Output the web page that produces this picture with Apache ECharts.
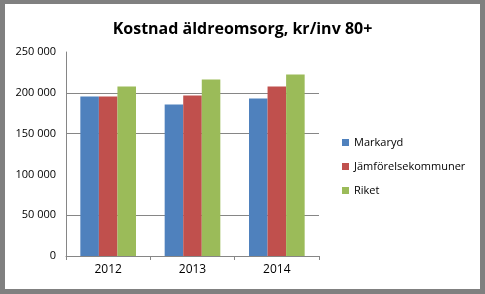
<!DOCTYPE html>
<html>
<head>
<meta charset="utf-8">
<script src="https://cdn.jsdelivr.net/npm/echarts@6/dist/echarts.min.js"></script>
<style>
  body { margin: 0; background: #808080; }
  .main { position: absolute; left: 5px; top: 4px; width: 475px; height: 285px; background: #fff; }
</style>
</head>
<body>
<div class="main" id="chart"></div>
<script>
// data
let years = ['2012', '2013', '2014']
let markaryd = [195500, 185700, 193000]
let jamforelse = [195500, 196700, 207700]
let riket = [207700, 216300, 222400]
let seriesNames = ['Markaryd', 'Jämförelsekommuner', 'Riket']
let colors = ['#4F81BD', '#C0504D', '#9BBB59']

let seriesData = []
let values = [markaryd, jamforelse, riket]
for (let i = 0; i < values.length; i++) {
  seriesData.push({
    name: seriesNames[i],
    type: 'bar',
    data: values[i],
    barGap: '0%',
    barCategoryGap: '34%',
    itemStyle: { color: colors[i] }
  })
}

let HChart = echarts.init(document.getElementById('chart'))
let option = {
  animation: false,
  title: {
    text: 'Kostnad äldreomsorg, kr/inv 80+',
    left: 'center',
    top: 12,
    textStyle: { fontFamily: 'Open Sans', fontWeight: 'bold', fontSize: 16, color: '#000' }
  },
  legend: {
    orient: 'vertical',
    left: 332,
    top: 128,
    itemWidth: 7,
    itemHeight: 7,
    itemGap: 13,
    icon: 'rect',
    data: seriesNames,
    textStyle: { fontFamily: 'Open Sans', fontSize: 11, color: '#000' }
  },
  grid: { left: 61, top: 48, width: 253, height: 204 },
  xAxis: {
    type: 'category',
    data: years,
    axisLine: { lineStyle: { color: '#868686' } },
    axisTick: { show: true, length: 4, lineStyle: { color: '#868686' } },
    axisLabel: { fontFamily: 'Open Sans', fontSize: 12, color: '#000', margin: 8 }
  },
  yAxis: {
    type: 'value',
    min: 0,
    max: 250000,
    interval: 50000,
    axisLine: { show: true, lineStyle: { color: '#868686' } },
    axisTick: { show: false },
    axisLabel: {
      fontFamily: 'Open Sans', fontSize: 11, color: '#000', margin: 10,
      formatter: v => String(v).replace(/\B(?=(\d{3})+(?!\d))/g, ' ')
    },
    // gridlines at 100 000 and 250 000 don't show in the original
    splitLine: { lineStyle: { color: ['#868686', '#868686', 'rgba(0,0,0,0)', '#868686', '#868686', 'rgba(0,0,0,0)'] } }
  },
  series: seriesData
}
HChart.setOption(option)
</script>
</body>
</html>
